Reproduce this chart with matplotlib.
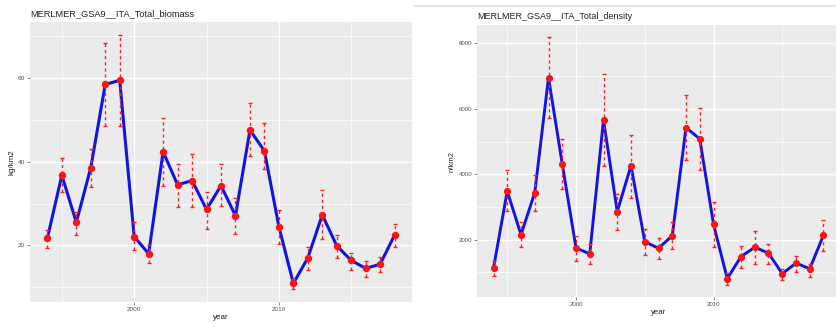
import numpy as np
import matplotlib
matplotlib.use("Agg")
import matplotlib.pyplot as plt
from matplotlib.lines import Line2D

plt.rcParams['font.family'] = ['Liberation Sans', 'DejaVu Sans']

years = list(range(1994, 2019))

# Total biomass (kg/km2): estimate and bounds
biomass = [21.7, 36.8, 25.5, 38.6, 58.5, 59.5, 22.1, 18.0, 42.4, 34.5, 35.5, 28.6, 34.3,
           27.1, 47.6, 42.6, 24.5, 10.9, 17.0, 27.3, 19.9, 16.4, 14.5, 15.5, 22.5]
biomass_hi = [23.8, 41.0, 27.9, 43.0, 68.4, 70.4, 25.5, 20.0, 50.5, 39.5, 41.8, 32.7, 39.5,
              31.4, 54.1, 49.4, 28.5, 11.9, 19.6, 33.3, 22.4, 18.2, 16.3, 17.2, 25.2]
biomass_lo = [19.3, 32.7, 22.6, 33.9, 48.6, 48.6, 18.8, 15.8, 34.3, 29.1, 29.1, 24.0, 29.5,
              22.8, 41.4, 38.3, 20.4, 9.5, 14.2, 21.6, 17.1, 14.2, 12.5, 13.6, 19.6]

# Total density (n/km2): estimate and bounds
density = [1133, 3485, 2152, 3436, 6952, 4315, 1748, 1567, 5658, 2861, 4264, 1939, 1739,
           2121, 5424, 5082, 2476, 809, 1485, 1770, 1588, 961, 1285, 1112, 2142]
density_hi = [1364, 4142, 2527, 3991, 8182, 5073, 2103, 1870, 7073, 3385, 5203, 2324, 2042,
              2527, 6415, 6012, 3152, 991, 1818, 2273, 1870, 1091, 1497, 1264, 2606]
density_lo = [891, 2879, 1770, 2879, 5709, 3536, 1364, 1264, 4242, 2303, 3285, 1536, 1415,
              1718, 4445, 4142, 1770, 627, 1133, 1264, 1264, 758, 1012, 861, 1667]

x_major = [2000, 2010]
x_minor = [1995, 2005, 2015]

W, H = 837, 327
fig = plt.figure(figsize=(W / 100, H / 100), dpi=100)
fig.patch.set_facecolor('white')


def expanded(lo, hi, frac=0.05):
    span = hi - lo
    return lo - frac * span, hi + frac * span


def panel(rect_px, x, y, ylo, yhi, title, ylabel, y_major, y_minor,
          title_fs, lab_fs, tick_fs, ms, lw):
    l, t, r, b = rect_px
    ax = fig.add_axes([l / W, (H - b) / H, (r - l) / W, (b - t) / H])
    ax.set_facecolor('#EBEBEB')
    for s in ax.spines.values():
        s.set_visible(False)
    ax.set_xlim(*expanded(min(x), max(x)))
    ax.set_ylim(*expanded(min(ylo), max(yhi)))
    ax.set_xticks(x_major)
    ax.set_xticks(x_minor, minor=True)
    ax.set_yticks(y_major)
    ax.set_yticks(y_minor, minor=True)
    ax.grid(True, which='major', color='white', linewidth=1.0)
    ax.grid(True, which='minor', color='white', linewidth=0.5)
    ax.set_axisbelow(True)
    ax.tick_params(which='major', length=2, width=0.5, color='#555555',
                   labelsize=tick_fs, labelcolor='#555555', pad=1.5)
    ax.tick_params(which='minor', length=0)

    ax.plot(x, y, color='#1414E0', linewidth=lw, zorder=3)
    ax.plot(x, y, 'o', color='#FF1010', markersize=ms, zorder=4)
    yerr = [np.array(y) - np.array(ylo), np.array(yhi) - np.array(y)]
    eb = ax.errorbar(x, y, yerr=yerr, fmt='none', ecolor='#FF2020',
                     elinewidth=1.0, capsize=1.6, capthick=1.0, zorder=5)
    for lc in eb[2]:
        lc.set_linestyle((0, (2.2, 2.2)))

    ax.set_title(title, loc='left', fontsize=title_fs, color='#222222', pad=4)
    ax.set_xlabel('year', fontsize=lab_fs, color='#222222', labelpad=1.5)
    ax.set_ylabel(ylabel, fontsize=lab_fs, color='#222222', labelpad=2)
    return ax


panel((30, 22, 412, 302), years, biomass, biomass_lo, biomass_hi,
      'MERLMER_GSA9__ITA_Total_biomass', 'kg/km2',
      [20, 40, 60], [10, 30, 50, 70],
      title_fs=6.7, lab_fs=5.8, tick_fs=4.6, ms=4.3, lw=2.2)

panel((477, 25, 840, 297), years, density, density_lo, density_hi,
      'MERLMER_GSA9__ITA_Total_density', 'n/km2',
      [2000, 4000, 6000, 8000], [1000, 3000, 5000, 7000],
      title_fs=6.5, lab_fs=5.6, tick_fs=4.4, ms=4.1, lw=2.1)

# thin border above the second plot
fig.add_artist(Line2D([415 / W, 1.0], [1 - 6 / H, 1 - 6 / H],
                      transform=fig.transFigure, color='#DDDDDD', linewidth=1.2))

fig.savefig('out.png', dpi=100, facecolor='white')
